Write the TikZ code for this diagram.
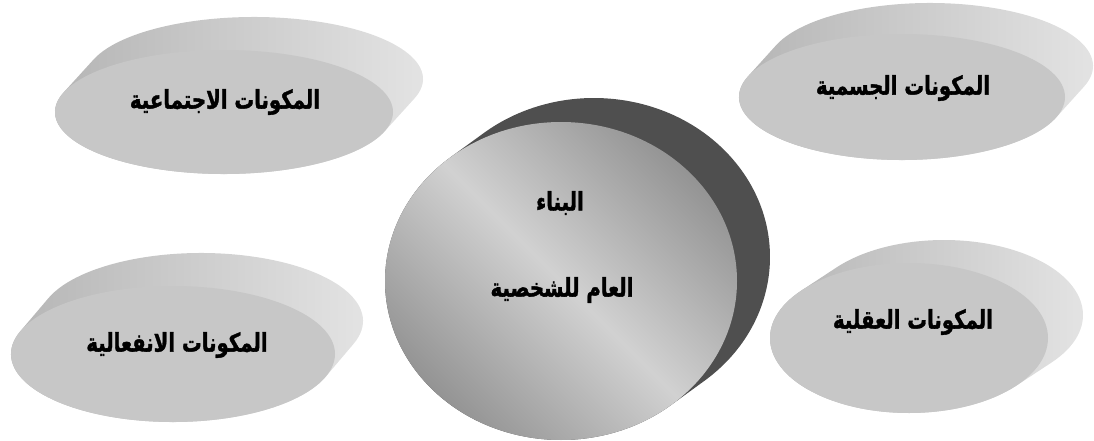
\documentclass[tikz,border=0pt]{standalone}
\usepackage{fontspec}
\newfontfamily\arabicfont[Script=Arabic, BoldFeatures={FakeBold=1.6}]{DejaVu Sans}
\TeXXeTstate=1
\usetikzlibrary{calc}
\definecolor{face}{gray}{0.78}
\definecolor{sidedark}{gray}{0.62}
\definecolor{sidemid}{gray}{0.70}
\definecolor{sidelight}{gray}{0.90}
\definecolor{core}{gray}{0.31}
\definecolor{coredark}{gray}{0.58}
\definecolor{corelight}{gray}{0.82}
\newcommand{\ar}[1]{\scalebox{1}[1.3]{\beginR #1\endR}}
% #1,#2 centre, #3,#4 radii, #5,#6 depth, #7 style of the side
\newcommand{\disc}[7]{%
  \pgfmathsetmacro\tz{atan2(-(#4)*(#5),(#3)*(#6))}%
  \path[#7] (#1+#5,#2+#6) ++(\tz+180:#3 and #4)
    arc[start angle=\tz+180, end angle=\tz, x radius=#3, y radius=#4]
    -- ++({-(#5)},{-(#6)})
    arc[start angle=\tz, end angle=\tz-180, x radius=#3, y radius=#4] -- cycle;
}
\tikzset{
  side/.style={left color=sidemid, middle color=sidedark, right color=sidelight},
  coreside/.style={fill=core},
  frontface/.style={fill=face},
  coreface/.style={top color=coredark, bottom color=coredark, middle color=corelight, shading angle=-45},
  txt/.style={font=\arabicfont\bfseries\fontsize{14}{16}\selectfont},
}

\begin{document}
\begin{tikzpicture}[x=0.025cm, y=-0.025cm]
    \useasboundingbox (0,0) rectangle (1094,441);

    % outer discs
    \disc{224}{112}{169}{62}{30}{-33}{side}
    \fill[frontface] (224,112) ellipse[x radius=169, y radius=62];
    \disc{902}{97}{163}{63}{28}{-31}{side}
    \fill[frontface] (902,97) ellipse[x radius=163, y radius=63];
    \disc{173}{354}{162}{68}{28}{-33}{side}
    \fill[frontface] (173,354) ellipse[x radius=162, y radius=68];
    \disc{909}{338}{139}{75}{35}{-23}{side}
    \fill[frontface] (909,338) ellipse[x radius=139, y radius=75];

    % centre
    \disc{561}{281}{176}{159}{33}{-24}{coreside}
    \shade[coreface] (561,281) ellipse[x radius=176, y radius=159];

    \node[txt] (social) at (225,102) {\ar{المكونات الاجتماعية}};
    \node[txt] (body) at (903,88) {\ar{المكونات الجسمية}};
    \node[txt] (emotion) at (177,345) {\ar{المكونات الانفعالية}};
    \node[txt] (mind) at (913,322) {\ar{المكونات العقلية}};
    \node[txt] (core1) at (560,203) {\ar{البناء}};
    \node[txt] (core2) at (562,290) {\ar{العام للشخصية}};
  \end{tikzpicture}
\end{document}
